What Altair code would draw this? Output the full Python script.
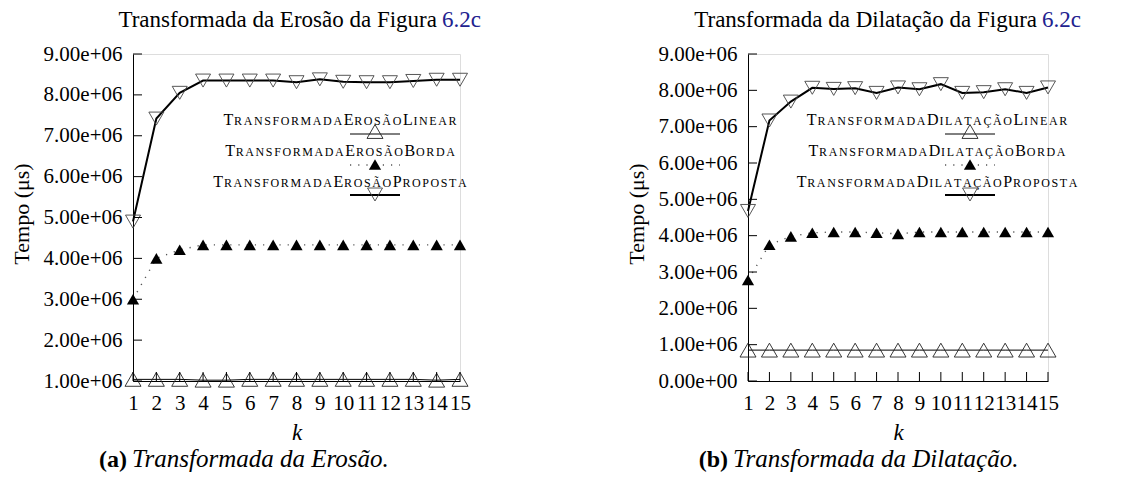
import altair as alt
import pandas as pd

# ---------------- data ----------------
K = list(range(1, 16))

ero_linear = [1.04e6, 1.04e6, 1.04e6, 1.02e6, 1.02e6, 1.04e6, 1.04e6, 1.04e6,
              1.04e6, 1.04e6, 1.04e6, 1.04e6, 1.04e6, 1.02e6, 1.04e6]
ero_borda = [3.00e6, 4.00e6, 4.21e6, 4.33e6, 4.33e6, 4.33e6, 4.33e6, 4.33e6,
             4.33e6, 4.33e6, 4.33e6, 4.33e6, 4.33e6, 4.33e6, 4.33e6]
ero_proposta = [4.90e6, 7.42e6, 8.05e6, 8.35e6, 8.35e6, 8.35e6, 8.35e6, 8.31e6,
                8.38e6, 8.32e6, 8.31e6, 8.31e6, 8.34e6, 8.37e6, 8.37e6]

dil_linear = [0.85e6, 0.85e6, 0.85e6, 0.85e6, 0.85e6, 0.85e6, 0.85e6, 0.85e6,
              0.85e6, 0.85e6, 0.85e6, 0.85e6, 0.85e6, 0.85e6, 0.85e6]
dil_borda = [2.78e6, 3.75e6, 3.98e6, 4.08e6, 4.10e6, 4.10e6, 4.08e6, 4.05e6,
             4.10e6, 4.10e6, 4.10e6, 4.10e6, 4.10e6, 4.10e6, 4.10e6]
dil_proposta = [4.68e6, 7.17e6, 7.69e6, 8.07e6, 8.04e6, 8.06e6, 7.93e6, 8.08e6,
                8.03e6, 8.17e6, 7.93e6, 7.95e6, 8.03e6, 7.93e6, 8.08e6]

ero_yticks = [1e6, 2e6, 3e6, 4e6, 5e6, 6e6, 7e6, 8e6, 9e6]
dil_yticks = [0, 1e6, 2e6, 3e6, 4e6, 5e6, 6e6, 7e6, 8e6, 9e6]

ero_names = ["TransformadaErosãoLinear", "TransformadaErosãoBorda",
             "TransformadaErosãoProposta"]
dil_names = ["TransformadaDilataçãoLinear", "TransformadaDilataçãoBorda",
             "TransformadaDilataçãoProposta"]

ero_title = "Transformada da Erosão da Figura"
dil_title = "Transformada da Dilatação da Figura"
fig_ref = "6.2c"
ero_caption = ("(a)", "Transformada da Erosão.")
dil_caption = ("(b)", "Transformada da Dilatação.")

# ---------------- styling ----------------
FONT = "'Liberation Serif', 'Times New Roman', serif"
BLUE = "#22228f"
YMAX = 9e6
H = 327
LABEL_EXPR = ("datum.value == 0 ? '0.00e+00' : "
              "format(datum.value / 1000000, '.2f') + 'e+06'")

# Times / Liberation Serif capital widths (em) for small-caps emulation
WID = dict(A=.722, B=.667, C=.667, D=.722, E=.611, F=.556, G=.722, H=.722,
           I=.333, J=.389, K=.722, L=.611, M=.889, N=.722, O=.722, P=.556,
           Q=.722, R=.667, S=.556, T=.611, U=.722, V=.722, W=.944, X=.722,
           Y=.722, Z=.611)
WID["Ã"] = WID["A"]
WID["Ç"] = WID["C"]


def one():
    return pd.DataFrame({"a": [0]})


def legend_rows(name, cx, base_py, W, ymin):
    B, S = 16.0, 12.0
    tB, tS = 0.8, 1.6
    items = []
    for ch in name:
        big = ch.isupper()
        u = ch.upper()
        size = B if big else S
        items.append((u, size, WID[u] * size, (tB if big else tS)))
    total = sum(w + t for _, _, w, t in items) - items[-1][3]
    x = cx - total / 2
    rows = []
    for u, size, w, t in items:
        rows.append({"k": 1 + x / W * 14,
                     "t": YMAX - base_py / H * (YMAX - ymin),
                     "ch": u, "fs": size})
        x += w + t
    return rows


def panel(lin, bor, pro, yticks, ymin, W, title_main, split, names,
          leg_cx, sym_cx, caption, cap_x):
    xs = alt.Scale(domain=[1, 15], nice=False, zero=False)
    ys = alt.Scale(domain=[ymin, YMAX], nice=False, zero=False)
    X = alt.X("k:Q", scale=xs, axis=alt.Axis(
        values=K, format="d", ticks=False, labelPadding=11, labelFontSize=21,
        labelFont=FONT, labelColor="black", labelOverlap=False,
        labelFlush=False, domainColor="black", domainWidth=1, grid=False,
        title="k", titleFont=FONT, titleFontSize=23, titleFontStyle="italic",
        titleFontWeight="normal", titleColor="black", titleX=W / 2,
        titleY=58, titleBaseline="alphabetic"))
    Y = alt.Y("t:Q", scale=ys, axis=alt.Axis(
        values=yticks, labelExpr=LABEL_EXPR, ticks=False, labelPadding=11,
        labelFontSize=21, labelFont=FONT, labelColor="black",
        domainColor="black", domainWidth=1, grid=False,
        title="Tempo (μs)", titleFont=FONT, titleFontSize=22,
        titleFontWeight="normal", titleColor="black", titleX=-112,
        titleY=H / 2 - 4, titleBaseline="middle"))

    d_lin = pd.DataFrame({"k": K, "t": lin})
    d_bor = pd.DataFrame({"k": K, "t": bor})
    d_pro = pd.DataFrame({"k": K, "t": pro})
    d_yt = pd.DataFrame({"t": yticks})
    d_xt = pd.DataFrame({"k": K})

    layers = [
        alt.Chart(d_lin).mark_line(color="black", strokeWidth=1).encode(x=X, y=Y),
        alt.Chart(d_lin).mark_point(shape="triangle-up", size=256, filled=False,
                                    color="#222", strokeWidth=0.9, opacity=1
                                    ).encode(x=X, y=Y),
        alt.Chart(d_bor).mark_line(color="#555", strokeWidth=1.4,
                                   strokeDash=[1.2, 7]).encode(x=X, y=Y),
        alt.Chart(d_bor).mark_point(shape="triangle-up", size=150, filled=True,
                                    color="black", opacity=1).encode(x=X, y=Y),
        alt.Chart(d_pro).mark_line(color="black", strokeWidth=2).encode(x=X, y=Y),
        alt.Chart(d_pro).mark_point(shape="triangle-down", size=225, filled=False,
                                    color="#444", strokeWidth=0.9, opacity=1
                                    ).encode(x=X, y=Y),
        # inward ticks
        alt.Chart(d_yt).mark_rule(color="black", strokeWidth=1).encode(
            y=Y, x=alt.value(0), x2=alt.value(9)),
        alt.Chart(d_xt).mark_rule(color="black", strokeWidth=1).encode(
            x=X, y=alt.value(H), y2=alt.value(H - 9)),
        # title
        alt.Chart(one()).mark_text(text=title_main, align="right",
                                   baseline="alphabetic", font=FONT,
                                   fontSize=23, color="black").encode(
            x=alt.value(split), y=alt.value(-27)),
        alt.Chart(one()).mark_text(text=fig_ref, align="left",
                                   baseline="alphabetic", font=FONT,
                                   fontSize=23, color=BLUE).encode(
            x=alt.value(split + 5), y=alt.value(-27)),
        # caption
        alt.Chart(one()).mark_text(text=caption[0], align="right",
                                   baseline="alphabetic", font=FONT,
                                   fontSize=24, fontWeight="bold",
                                   color="black").encode(
            x=alt.value(cap_x - 5), y=alt.value(413)),
        alt.Chart(one()).mark_text(text=caption[1], align="left",
                                   baseline="alphabetic", font=FONT,
                                   fontSize=25, fontStyle="italic",
                                   color="black").encode(
            x=alt.value(cap_x), y=alt.value(413)),
    ]

    # legend text (small caps emulation)
    rows = []
    for name, by in zip(names, [71, 102, 133]):
        rows += legend_rows(name, leg_cx, by, W, ymin)
    layers.append(
        alt.Chart(pd.DataFrame(rows)).mark_text(
            align="left", baseline="alphabetic", font=FONT, color="black"
        ).encode(x=X, y=Y, text="ch:N", size=alt.Size("fs:Q", scale=None)))

    # legend glyphs
    a, b = sym_cx - 25, sym_cx + 25
    layers += [
        alt.Chart(one()).mark_rule(color="black", strokeWidth=1).encode(
            x=alt.value(a), x2=alt.value(b), y=alt.value(80)),
        alt.Chart(one()).mark_point(shape="triangle-up", size=256, filled=False,
                                    color="#222", strokeWidth=0.9, opacity=1
                                    ).encode(x=alt.value(sym_cx), y=alt.value(77.5)),
        alt.Chart(one()).mark_rule(color="#555", strokeWidth=1.4,
                                   strokeDash=[1.2, 7]).encode(
            x=alt.value(a), x2=alt.value(b), y=alt.value(111)),
        alt.Chart(one()).mark_point(shape="triangle-up", size=150, filled=True,
                                    color="black", opacity=1
                                    ).encode(x=alt.value(sym_cx), y=alt.value(110.5)),
        alt.Chart(one()).mark_rule(color="black", strokeWidth=2).encode(
            x=alt.value(a), x2=alt.value(b), y=alt.value(141)),
        alt.Chart(one()).mark_point(shape="triangle-down", size=225, filled=False,
                                    color="#444", strokeWidth=0.9, opacity=1
                                    ).encode(x=alt.value(sym_cx), y=alt.value(140.5)),
    ]
    return alt.layer(*layers).properties(width=W, height=H)


left = panel(ero_linear, ero_borda, ero_proposta, ero_yticks, 1e6, 327,
             ero_title, 304, ero_names, 207, 242, ero_caption, -1)
right = panel(dil_linear, dil_borda, dil_proposta, dil_yticks, 0, 300,
              dil_title, 289, dil_names, 189, 222, dil_caption, -15)

chart = alt.hconcat(left, right, spacing=288, bounds="flush").properties(
    padding={"left": 1, "top": 0, "right": 5, "bottom": 5}
).configure_view(strokeWidth=0).configure(font=FONT)

chart.save("out.html", embed_options={"renderer": "svg", "actions": False})
